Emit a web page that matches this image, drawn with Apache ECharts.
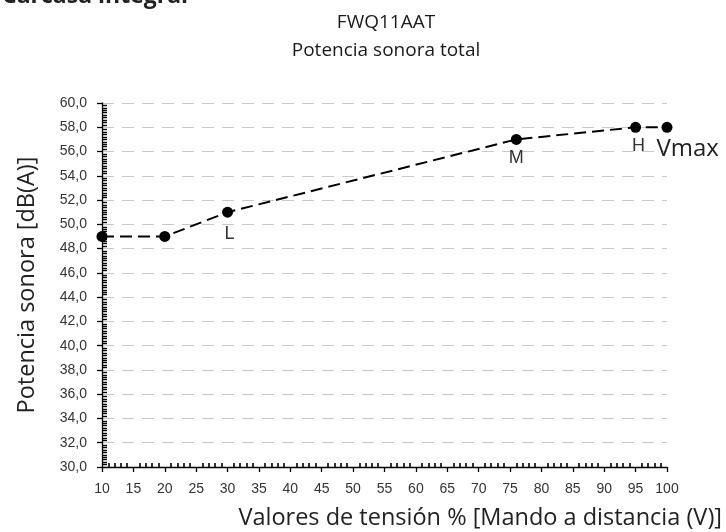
<!DOCTYPE html>
<html><head><meta charset="utf-8">
<script src="https://cdn.jsdelivr.net/npm/echarts@6/dist/echarts.min.js"></script>
<style>html,body{margin:0;padding:0;background:#fff}#c{width:726px;height:532px}</style>
</head><body><div id="c"></div>
<script>
var xValues = [10, 20, 30, 76, 95, 100];
var yValues = [49, 49, 51, 57, 58, 58];
var pointLabels = ['', '', 'L', 'M', 'H', 'Vmax'];
var xTicks = {min: 10, max: 100, interval: 5};
var yTicks = {min: 30, max: 60, interval: 2};

var myriad = '"Open Sans", "Noto Sans", sans-serif';
var arial = '"Liberation Sans", Arial, sans-serif';

var labelOffsets = {L: [2, 3], M: [0, 0], H: [3, 0]};
var data = xValues.map(function (x, i) {
  var item = {value: [x, yValues[i]]};
  var lab = pointLabels[i];
  if (lab === 'Vmax') {
    item.label = {show: true, formatter: lab, position: 'right', distance: 0,
      color: '#222', fontFamily: myriad, fontSize: 24, offset: [-16, 22]};
  } else if (lab) {
    item.label = {
      show: true, formatter: lab, position: 'bottom', distance: 4,
      color: '#333', fontFamily: arial, fontSize: 18, offset: labelOffsets[lab]
    };
  }
  return item;
});

var grid = {left: 102, right: 59, top: 103, bottom: 65};
var chart = echarts.init(document.getElementById('c'));
chart.setOption({
  animation: false,
  title: {
    text: 'FWQ11AAT\nPotencia sonora total',
    left: 381, top: 4, textAlign: 'center',
    textStyle: {fontFamily: myriad, fontSize: 19, fontWeight: 'normal', color: '#1a1a1a', lineHeight: 28}
  },
  graphic: [
    {type: 'text', x: 2, y: -4, style: {text: 'Carcasa integral', font: 'bold 23px ' + myriad, fill: '#222', verticalAlign: 'middle'}},
    {type: 'text', x: 722, y: 518, style: {text: 'Valores de tensión % [Mando a distancia (V)]', font: '23.5px ' + myriad, fill: '#222', align: 'right', verticalAlign: 'middle'}}
  ],
  grid: [grid, grid],
  xAxis: [{
    type: 'value', gridIndex: 0, min: xTicks.min, max: xTicks.max, interval: xTicks.interval,
    axisLine: {show: true, onZero: false, lineStyle: {color: '#000', width: 1.3}},
    axisTick: {show: true, length: 5, lineStyle: {color: '#000', width: 1.3}},
    axisLabel: {color: '#333', fontFamily: arial, fontSize: 14, margin: 15},
    splitLine: {show: false}
  }, {
    type: 'value', gridIndex: 1, min: xTicks.min, max: xTicks.max, interval: xTicks.interval,
    axisLine: {show: false, onZero: false},
    axisTick: {show: false, inside: true},
    minorTick: {show: true, splitNumber: 5, length: 4, lineStyle: {color: '#000', width: 1.6}},
    axisLabel: {show: false}, splitLine: {show: false}
  }],
  yAxis: [{
    type: 'value', gridIndex: 0, min: yTicks.min, max: yTicks.max, interval: yTicks.interval,
    name: 'Potencia sonora [dB(A)]', nameLocation: 'middle', nameGap: 63,
    nameTextStyle: {fontFamily: myriad, fontSize: 23.5, color: '#222'},
    axisLine: {show: true, onZero: false, lineStyle: {color: '#000', width: 1.3}},
    axisTick: {show: true, length: 5, lineStyle: {color: '#000', width: 1.3}},
    axisLabel: {color: '#333', fontFamily: arial, fontSize: 14, margin: 15,
      formatter: function (v) { return v.toFixed(1).replace('.', ','); }},
    splitLine: {show: true, lineStyle: {color: '#c8c8c8', type: [12, 8], width: 1}}
  }, {
    type: 'value', gridIndex: 1, min: yTicks.min, max: yTicks.max, interval: yTicks.interval,
    axisLine: {show: false, onZero: false},
    axisTick: {show: false, inside: true},
    minorTick: {show: true, splitNumber: 10, length: 5, lineStyle: {color: '#000', width: 1.4}},
    axisLabel: {show: false}, splitLine: {show: false}
  }],
  series: [{
    type: 'line', xAxisIndex: 0, yAxisIndex: 0, data: data,
    symbol: 'circle', symbolSize: 11,
    itemStyle: {color: '#000'},
    lineStyle: {color: '#000', width: 2, type: [12, 6]},
    z: 5
  }, {
    type: 'line', xAxisIndex: 1, yAxisIndex: 1, data: [[xTicks.min, yTicks.min]],
    symbol: 'none', lineStyle: {opacity: 0}, silent: true
  }]
});
</script></body></html>
